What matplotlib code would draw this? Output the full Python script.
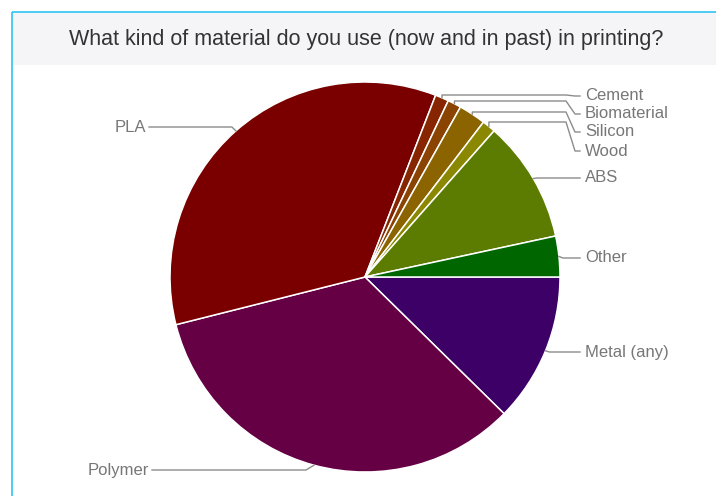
import numpy as np
import matplotlib
matplotlib.use("Agg")
import matplotlib.pyplot as plt
from matplotlib.patches import Rectangle

# Data (counts), in drawing order clockwise from 3 o'clock
materials = ["Metal (any)", "Polymer", "PLA", "Cement", "Biomaterial",
             "Silicon", "Wood", "ABS", "Other"]
counts = [11, 30, 31, 1, 1, 2, 1, 9, 3]
colors = ["#3d0066", "#660044", "#7a0000", "#862500", "#8a4300",
          "#8b6400", "#8a8800", "#5b7c00", "#006600"]

TITLE = "What kind of material do you use (now and in past) in printing?"

W, H = 716, 496
fig = plt.figure(figsize=(W / 100, H / 100), dpi=100)
ax = fig.add_axes([0, 0, 1, 1])

# pixel style coords, y measured from top
def py(y):
    return H - y

cx, cy, r = 365, 277, 195

wedges, _ = ax.pie(counts, colors=colors, startangle=0, counterclock=False,
                   center=(cx, py(cy)), radius=r,
                   wedgeprops=dict(edgecolor="white", linewidth=1.1))
ax.set_xlim(0, W)
ax.set_ylim(0, H)
ax.set_aspect("auto")
ax.axis("off")

# frame + title bar
ax.add_patch(Rectangle((13, py(65)), W - 13, 52, facecolor="#f5f5f7",
                       edgecolor="none", zorder=0))
ax.plot([12, 12], [py(12), 0], color="#2ec4f2", lw=1.2, solid_capstyle="butt")
ax.plot([12, W], [py(12), py(12)], color="#2ec4f2", lw=1.2, solid_capstyle="butt")
ax.text(366, py(40), TITLE, ha="center", va="center", fontsize=15.5,
        color="#333333", family="Liberation Sans")

# mid angle of each slice, clockwise from 3 o'clock (screen coords)
frac = np.array(counts) / sum(counts)
ends = np.cumsum(frac) * 360
mids = ends - frac * 180

def edge_pt(i):
    a = np.deg2rad(mids[i])
    return cx + r * np.cos(a), cy + r * np.sin(a)

label_y = {"Cement": 96, "Biomaterial": 114, "Silicon": 132, "Wood": 151,
           "ABS": 178, "Other": 258, "Metal (any)": 352,
           "PLA": 127, "Polymer": 470}
line_y = {"Cement": 95, "Biomaterial": 101, "Silicon": 112, "Wood": 122}

lc = "#8c8c8c"
for i, name in enumerate(materials):
    ex, ey = edge_pt(i)
    ly = label_y[name]
    if name in line_y:
        yy = line_y[name]
        xs = [ex, ex, 566, 575, 580]
        ys = [ey, yy, yy, ly, ly]
        tx, ha = 585, "left"
    elif name == "PLA":
        xs = [ex, ex - 4, 149]
        ys = [ey, ly, ly]
        tx, ha = 146, "right"
    elif name == "Polymer":
        xs = [ex, ex - 8, 152]
        ys = [ey, ly, ly]
        tx, ha = 149, "right"
    else:
        xs = [ex, min(ex + 4, 580), 580]
        ys = [ey, ly, ly]
        tx, ha = 585, "left"
    ax.plot(xs, [py(v) for v in ys], color=lc, lw=1, zorder=1)
    ax.text(tx, py(ly), name, ha=ha, va="center", fontsize=12,
            color="#777777", family="Liberation Sans")

fig.savefig("out.png", dpi=100)
